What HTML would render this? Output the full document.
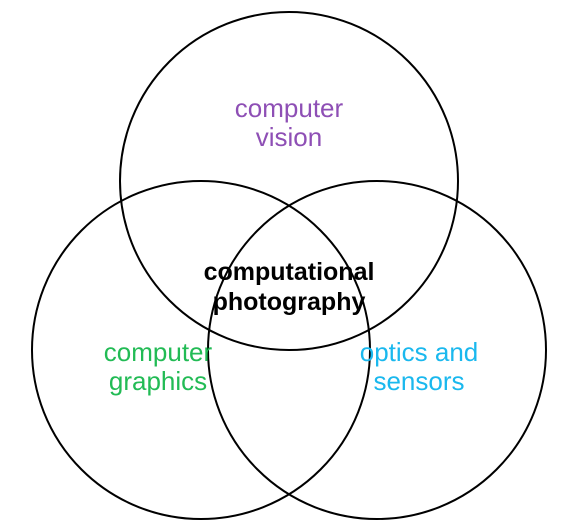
<!DOCTYPE html>
<html><head><style>
html,body{margin:0;padding:0;background:#fff;}
svg{display:block;}
</style></head><body>
<svg width="565" height="523" viewBox="0 0 565 523" xmlns="http://www.w3.org/2000/svg">
<g fill="none" stroke="#000" stroke-width="2">
<circle cx="289" cy="181" r="169"/>
<circle cx="201" cy="350" r="169"/>
<circle cx="377" cy="350" r="169"/>
</g>
<g font-family="Liberation Sans, sans-serif" font-size="26" text-anchor="middle">
<text x="289" y="117" fill="#8e4fb5">computer</text>
<text x="289" y="146" fill="#8e4fb5">vision</text>
<text x="158" y="361" fill="#22bb55">computer</text>
<text x="158" y="390" fill="#22bb55">graphics</text>
<text x="419" y="361" fill="#1ab8ee">optics and</text>
<text x="419" y="390" fill="#1ab8ee">sensors</text>
<text x="289" y="280" font-weight="bold" font-size="25" fill="#000">computational</text>
<text x="289" y="310" font-weight="bold" font-size="25" fill="#000">photography</text>
</g>
</svg>
</body></html>
